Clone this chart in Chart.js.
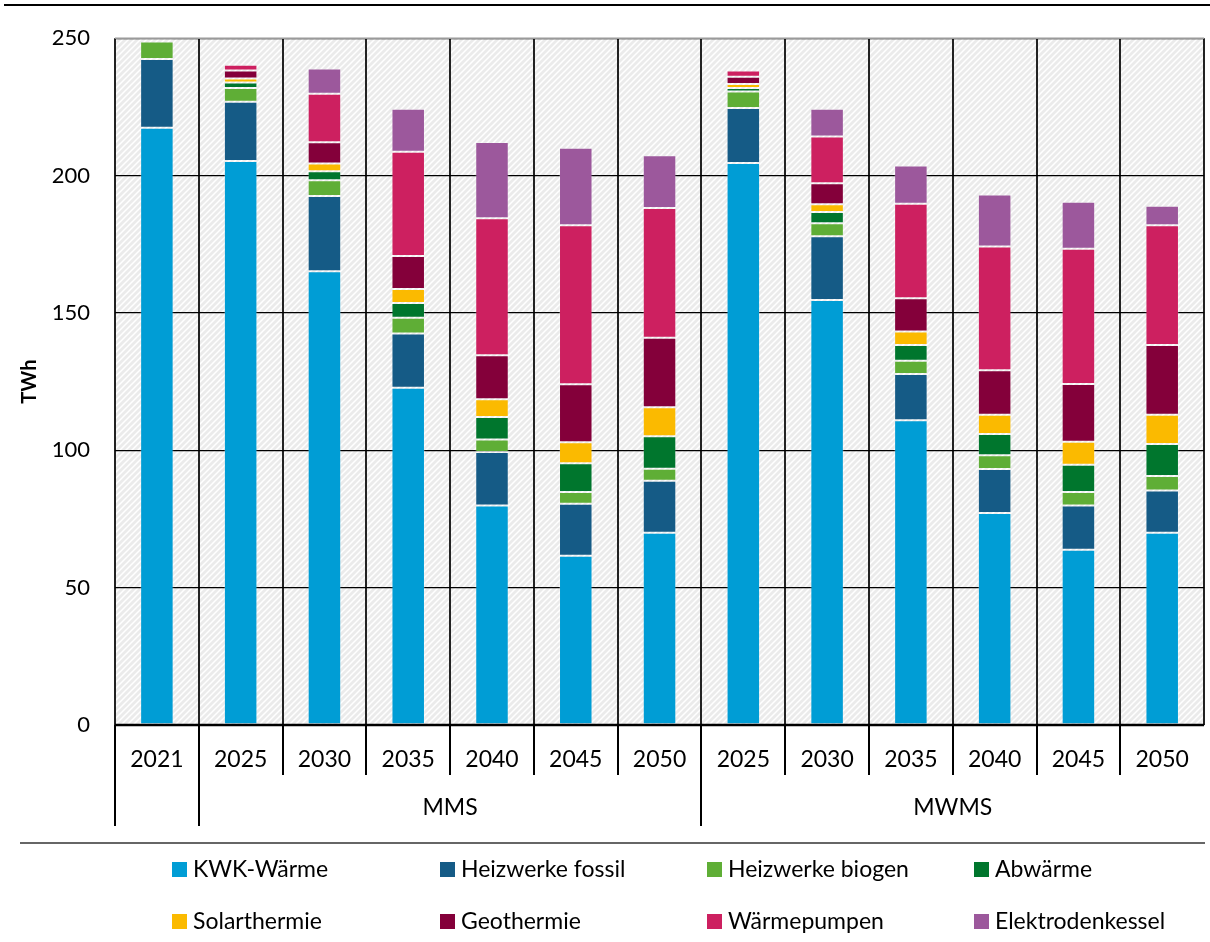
<!DOCTYPE html>
<html><head><meta charset="utf-8">
<script src="https://cdn.jsdelivr.net/npm/chart.js@4.4.0/dist/chart.umd.min.js"></script>
<style>html,body{margin:0;padding:0;background:#fff}#wrap{width:1210px;height:942px;position:relative}</style>
</head><body><div id="wrap"><canvas id="c" width="1210" height="942"></canvas></div>
<script>
// ---- data ----
const categories = ['2021','2025','2030','2035','2040','2045','2050','2025','2030','2035','2040','2045','2050'];
const groupLabels = ['', 'MMS', 'MWMS'];
const groupStarts = [0, 1, 7];   // index of first category in each group
const groupEnds   = [0, 6, 12];  // index of last category in each group
const yTicks = [0, 50, 100, 150, 200, 250];
const yTitle = 'TWh';

const kwkWaerme       = [217.4, 205.3, 165.2, 122.8, 79.9, 61.6, 70.0, 204.6, 154.7, 110.9, 77.2, 63.8, 70.0];
const heizwerkeFossil = [25.0, 21.6, 27.4, 19.7, 19.5, 18.9, 18.9, 20.0, 23.2, 16.9, 16.0, 16.1, 15.4];
const heizwerkeBiogen = [6.4, 5.0, 5.7, 5.7, 4.5, 4.3, 4.4, 6.0, 4.7, 4.8, 5.0, 4.9, 5.2];
const abwaerme        = [0.0, 2.0, 3.3, 5.4, 8.2, 10.5, 11.8, 1.3, 4.1, 5.7, 7.7, 9.9, 11.7];
const solarthermie    = [0.0, 1.4, 2.8, 5.1, 6.5, 7.6, 10.6, 1.4, 2.9, 4.9, 7.0, 8.4, 10.6];
const geothermie      = [0.6, 2.9, 7.7, 12.0, 16.0, 21.1, 25.3, 2.7, 7.6, 12.1, 16.2, 21.0, 25.4];
const waermepumpen    = [1.0, 2.1, 17.7, 38.0, 49.9, 57.9, 47.2, 2.2, 17.0, 34.4, 45.1, 49.3, 43.6];
const elektrodenkessel= [0.3, 0.7, 9.2, 15.6, 27.7, 28.2, 19.2, 0.8, 10.1, 14.0, 18.9, 17.1, 7.1];

const seriesNames = ['KWK-Wärme','Heizwerke fossil','Heizwerke biogen','Abwärme','Solarthermie','Geothermie','Wärmepumpen','Elektrodenkessel'];
const seriesValues = [kwkWaerme, heizwerkeFossil, heizwerkeBiogen, abwaerme, solarthermie, geothermie, waermepumpen, elektrodenkessel];
const seriesColors = ['#009dd5','#155b86','#5fae36','#00762d','#fbba00','#84003a','#cd2060','#9c589c'];

// ---- styling ----
const FONT = 'Lato, "Open Sans", sans-serif';

function makePattern(ctx) {
  const t = document.createElement('canvas');
  t.width = 6; t.height = 6;
  const g = t.getContext('2d');
  g.fillStyle = '#ebebeb';
  g.fillRect(0, 0, 6, 6);
  g.strokeStyle = '#ffffff';
  g.lineWidth = 1.5;
  g.beginPath();
  g.moveTo(-1, 7); g.lineTo(7, -1);
  g.moveTo(-4, 4); g.lineTo(4, -4);
  g.moveTo(2, 10); g.lineTo(10, 2);
  g.stroke();
  return ctx.createPattern(t, 'repeat');
}

const decor = {
  id: 'decor',
  beforeDraw(chart) {
    const {ctx, chartArea: a} = chart;
    ctx.save();
    ctx.fillStyle = makePattern(ctx);
    ctx.fillRect(a.left, a.top, a.right - a.left, a.bottom - a.top);
    ctx.restore();
  },
  afterDraw(chart) {
    const {ctx, chartArea: a} = chart;
    const xs = chart.scales.x;
    const n = categories.length;
    const w = (a.right - a.left) / n;
    ctx.save();
    // top rule
    ctx.strokeStyle = '#000'; ctx.lineWidth = 2;
    ctx.beginPath(); ctx.moveTo(4, 5); ctx.lineTo(1210, 5); ctx.stroke();
    // top border of plot
    ctx.strokeStyle = '#9a9a9a'; ctx.lineWidth = 1.5;
    ctx.beginPath(); ctx.moveTo(a.left, a.top); ctx.lineTo(a.right, a.top); ctx.stroke();
    // axis line
    ctx.strokeStyle = '#000'; ctx.lineWidth = 2.5;
    ctx.beginPath(); ctx.moveTo(a.left, a.bottom); ctx.lineTo(a.right, a.bottom); ctx.stroke();
    // category separators below axis
    ctx.lineWidth = 2;
    const groupBounds = new Set(groupStarts);
    for (let i = 0; i < n; i++) {
      const x = Math.round(a.left + i * w);
      const long = groupBounds.has(i);
      ctx.beginPath(); ctx.moveTo(x, a.bottom); ctx.lineTo(x, long ? 826 : 775); ctx.stroke();
    }
    // group labels
    ctx.fillStyle = '#000';
    ctx.font = '23px ' + FONT;
    ctx.textAlign = 'center'; ctx.textBaseline = 'middle';
    groupLabels.forEach((lab, g) => {
      if (!lab) return;
      const x0 = xs.getPixelForValue(groupStarts[g]) - w / 2;
      const x1 = xs.getPixelForValue(groupEnds[g]) + w / 2;
      ctx.fillText(lab, (x0 + x1) / 2, 808);
    });
    // rule above legend
    ctx.strokeStyle = '#333'; ctx.lineWidth = 1.5;
    ctx.beginPath(); ctx.moveTo(20, 843); ctx.lineTo(1205, 843); ctx.stroke();
    // legend (4 columns x 2 rows)
    const colX = [172, 440, 707, 974];
    const rowY = [869, 921];
    ctx.textAlign = 'left';
    ctx.font = '23px ' + FONT;
    chart.data.datasets.forEach((ds, i) => {
      const cx = colX[i % 4], cy = rowY[Math.floor(i / 4)];
      ctx.fillStyle = ds.backgroundColor;
      ctx.fillRect(cx, cy - 7, 15, 15);
      ctx.fillStyle = '#000';
      ctx.fillText(ds.label, cx + 21, cy + 1);
    });
    ctx.restore();
  }
};

new Chart(document.getElementById('c'), {
  type: 'bar',
  data: {
    labels: categories,
    datasets: seriesNames.map((name, i) => ({
      label: name,
      data: seriesValues[i],
      backgroundColor: seriesColors[i],
      borderColor: 'rgba(255,255,255,0.22)',
      borderWidth: 1,
      borderSkipped: false,
      barPercentage: 0.4,
      categoryPercentage: 1.0
    }))
  },
  options: {
    responsive: false,
    animation: false,
    devicePixelRatio: 1,
    layout: { padding: { top: 35, right: 3, left: 0, bottom: 0 } },
    plugins: { legend: { display: false }, tooltip: { enabled: false } },
    scales: {
      x: {
        stacked: true,
        afterFit(s) { s.height = 217; },
        grid: { offset: true, color: '#222', lineWidth: 2, drawTicks: false },
        border: { display: false },
        ticks: { color: '#000', font: { family: FONT, size: 23 }, padding: 21, maxRotation: 0, autoSkip: false }
      },
      y: {
        stacked: true,
        min: 0, max: 250,
        afterFit(s) { s.width = 115; },
        afterBuildTicks(s) { s.ticks = yTicks.map(v => ({ value: v })); },
        grid: { color: '#000', lineWidth: 1.3, drawTicks: false },
        border: { display: false },
        ticks: { color: '#000', font: { family: FONT, size: 22 }, padding: 25 },
        title: { display: true, text: yTitle, color: '#000', font: { family: FONT, size: 20, weight: 'bold' }, padding: { top: 18, bottom: 0 } }
      }
    }
  },
  plugins: [decor]
});
</script>
</body></html>
